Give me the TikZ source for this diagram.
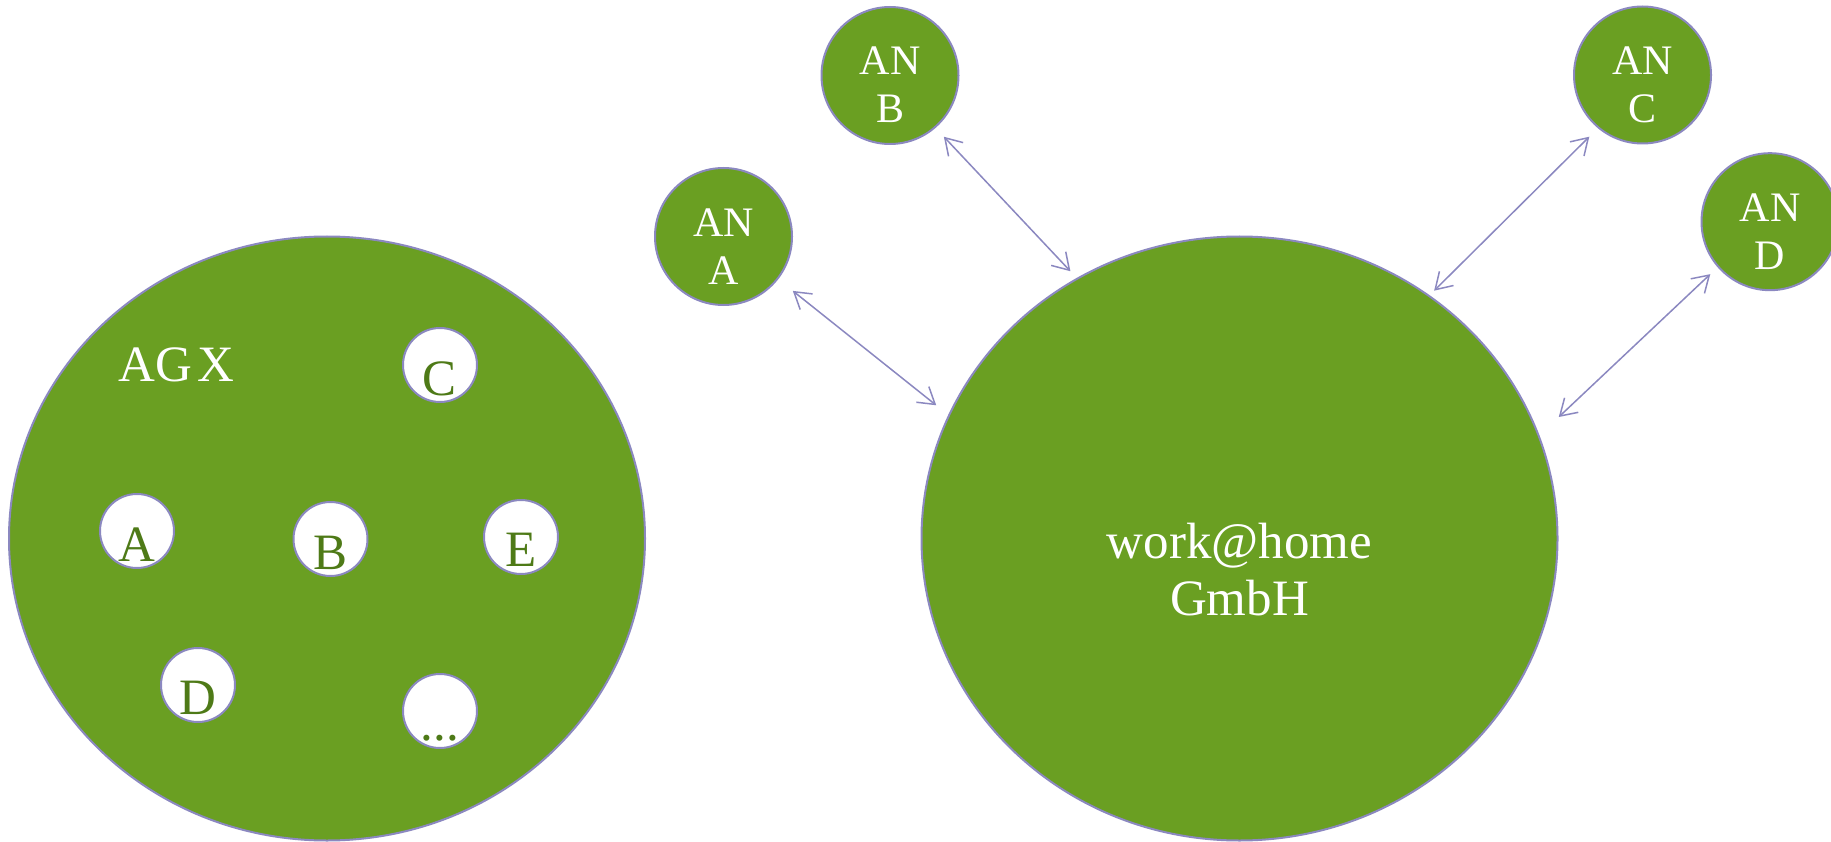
\documentclass[tikz,border=0pt]{standalone}
\usepackage{fontspec}
\setmainfont{Liberation Serif}
\usetikzlibrary{arrows.meta,shapes.geometric}
\definecolor{grn}{HTML}{6A9F22}
\definecolor{dgrn}{HTML}{4E7A17}
\definecolor{lav}{HTML}{8B88C0}
\begin{document}
\begin{tikzpicture}[x=1pt,y=-1pt,
  big/.style={ellipse, fill=grn, draw=lav, line width=2pt, minimum width=636pt, minimum height=604pt, inner sep=0pt},
  an/.style={circle, fill=grn, draw=lav, line width=2pt, minimum size=137pt, inner sep=0pt},
  wc/.style={circle, fill=white, draw=lav, line width=2pt, minimum size=74pt, inner sep=0pt},
  wt/.style={text=white, font=\fontsize{51}{57}\selectfont, align=center, inner sep=0pt},
  gt/.style={text=dgrn, font=\fontsize{51}{57}\selectfont, inner sep=0pt},
  ant/.style={text=white, font=\fontsize{42}{48}\selectfont, align=center, inner sep=0pt},
  link/.style={draw=lav, line width=1.5pt, {Straight Barb[length=16pt,width=20pt]}-{Straight Barb[length=16pt,width=20pt]}},
]
\useasboundingbox (0,0) rectangle (1831,842);
% big ellipses
\node[big] (agx) at (327,538.5) {};
\node[big] (work) at (1239.5,538.5) {};
\node[wt] (agxlbl) at (176.5,365) {AG\hspace{0.12em}X};
\node[wt] (worklbl) at (1239.5,569.5) {work@home\\GmbH};
% members of AG X
\node[wc] (wC) at (440,365) {};
\node[wc] (wA) at (137,531) {};
\node[wc] (wB) at (330.5,539) {};
\node[wc] (wE) at (521,537) {};
\node[wc] (wD) at (198,685) {};
\node[wc] (wX) at (440,711) {};
\node[gt] (tC) at (440,378.5) {C};
\node[gt] (tA) at (137,544.5) {A};
\node[gt] (tB) at (330.5,552.5) {B};
\node[gt] (tE) at (521,550) {E};
\node[gt] (tD) at (198,698) {D};
\node[gt] (tX) at (440,738) {...};
% employees
\node[an] (anA) at (723.5,236.5) {};
\node[an] (anB) at (890,75.5) {};
\node[an] (anC) at (1642.5,75) {};
\node[an] (anD) at (1770,221.7) {};
\node[ant] (tanA) at (723.5,246.5) {AN\\A};
\node[ant] (tanB) at (890,85) {AN\\B};
\node[ant] (tanC) at (1642.5,85) {AN\\C};
\node[ant] (tanD) at (1770,231.7) {AN\\D};
% links
\draw[link, shorten <=18.6pt, shorten >=15.4pt] (anA.-38.5) -- (work.157.8);
\draw[link, shorten <=12.1pt, shorten >=9.2pt] (anB.-49.2) -- (work.122);
\draw[link, shorten <=12pt, shorten >=6.4pt] (anC.-130.5) -- (work.52.7);
\draw[link, shorten <=10pt, shorten >=26.6pt] (anD.-139.9) -- (work.19);
\end{tikzpicture}
\end{document}
